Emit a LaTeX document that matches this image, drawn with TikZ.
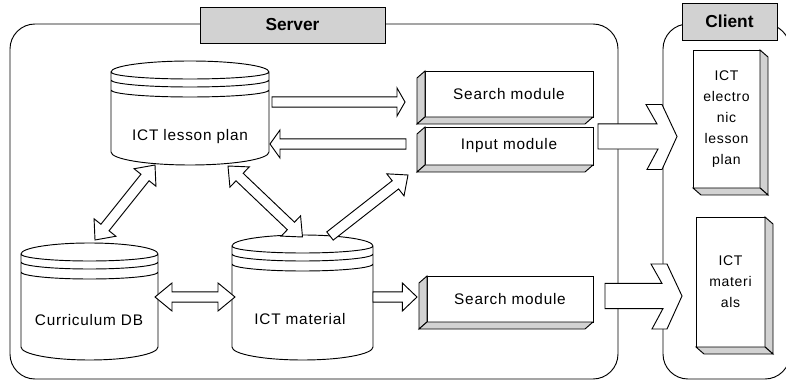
\documentclass[tikz,border=0pt]{standalone}
\usepackage{fontspec}
\setmainfont{Liberation Sans}
\newfontfamily\wide[LetterSpace=5]{Liberation Sans}
\usepackage{tikz}
\usetikzlibrary{calc,positioning}
\tikzset{db/.style={rectangle,inner sep=0pt,outer sep=0pt},
  mod box/.style={rectangle,draw,fill=white,inner sep=0pt,outer sep=0pt,minimum width=126pt,minimum height=34.5pt,font=\wide\fontsize{11.5}{14}\selectfont},
  cl box/.style={rectangle,draw,fill=white,inner sep=0pt,outer sep=0pt,align=center,font=\wide\fontsize{10.5}{15.75}\selectfont},
  tag box/.style={rectangle,draw,fill=gray!35,inner sep=0pt,outer sep=0pt,font=\bfseries\fontsize{13}{15}\selectfont},
  txt/.style={font=\wide\fontsize{11.5}{14}\selectfont},}
\tikzstyle{bevel} = [draw,fill=gray!35]
\tikzstyle{block} = [draw,fill=white]

% database drum round a db node
\newcommand{\drum}[1]{%
  \draw let \p1=(#1.north west), \p2=(#1.south east), \n1={(\x2-\x1)/2} in
    (\x1,{\y1-8.25pt}) -- (\x1,{\y2+9.75pt})
    arc[start angle=180,end angle=360,x radius=\n1,y radius=9.75pt]
    -- (\x2,{\y1-8.25pt})
    arc[start angle=0,end angle=180,x radius=\n1,y radius=8.25pt]
    arc[start angle=180,end angle=360,x radius=\n1,y radius=5.25pt]
    (\x1,{\y1-14.25pt}) arc[start angle=180,end angle=360,x radius=\n1,y radius=5.25pt]
    (\x1,{\y1-21.75pt}) arc[start angle=180,end angle=360,x radius=\n1,y radius=5.25pt];}
% bevels
\newcommand{\bevelsw}[1]{%
  \draw[bevel] (#1.north west) -- ++(-8,7) -- ($(#1.south west)+(-8,7)$) -- (#1.south west) -- cycle;
  \draw[bevel] (#1.south west) -- ++(-8,7) -- ($(#1.south east)+(-8,7)$) -- (#1.south east) -- cycle;}
\newcommand{\bevelse}[1]{%
  \draw[bevel] (#1.north east) -- ++(8,7) -- ($(#1.south east)+(8,7)$) -- (#1.south east) -- cycle;
  \draw[bevel] (#1.south west) -- ++(8,7) -- ($(#1.south east)+(8,7)$) -- (#1.south east) -- cycle;}
% hollow arrows
\newcommand{\barrow}[3][9pt]{%
  \coordinate (s) at (#2); \coordinate (e) at (#3);
  \coordinate (hb) at ($(e)!#1!(s)$);
  \draw[block] ($(s)!3.9pt!90:(e)$) -- ($(hb)!3.9pt!90:(e)$) -- ($(hb)!10.5pt!90:(e)$) -- (e)
    -- ($(hb)!10.5pt!-90:(e)$) -- ($(hb)!3.9pt!-90:(e)$) -- ($(s)!3.9pt!-90:(e)$) -- cycle;}
\newcommand{\dbarrow}[3][12pt]{%
  \coordinate (s) at (#2); \coordinate (e) at (#3);
  \coordinate (hb) at ($(e)!#1!(s)$); \coordinate (ha) at ($(s)!#1!(e)$);
  \draw[block] (s) -- ($(ha)!10.5pt!90:(e)$) -- ($(ha)!3.9pt!90:(e)$) -- ($(hb)!3.9pt!90:(e)$)
    -- ($(hb)!10.5pt!90:(e)$) -- (e) -- ($(hb)!10.5pt!-90:(e)$) -- ($(hb)!3.9pt!-90:(e)$)
    -- ($(ha)!3.9pt!-90:(e)$) -- ($(ha)!10.5pt!-90:(e)$) -- cycle;}
\newcommand{\chevarrow}[2]{%
  \draw[block] let \p1=(#1), \p2=(#2) in
    (\x1,{\y1+9.4pt}) -- ({\x2-15pt},{\y1+9.4pt}) -- ({\x2-23.25pt},{\y1+24pt}) -- ({\x2-11.25pt},{\y1+24pt})
    -- (\x2,\y1) -- ({\x2-11.25pt},{\y1-24.75pt}) -- ({\x2-22.5pt},{\y1-24.75pt})
    -- ({\x2-14.25pt},{\y1-9.4pt}) -- (\x1,{\y1-9.4pt}) -- cycle;}

\begin{document}
\begin{tikzpicture}[x=0.75pt,y=-0.75pt,line width=0.7pt]
    \useasboundingbox (0,0) rectangle (786,381);
    % frames
    \draw[rounded corners=18.75pt] (10,24) rectangle (618,379);
    \draw[rounded corners=18.75pt] (663,24) rectangle (790,379);
    \node[tag box,minimum width=138.75pt,minimum height=27pt] (srv) at (292.5,25) {Server};
    \node[tag box,minimum width=71.25pt,minimum height=27.75pt] (cli) at (729.5,21.5) {Client};

    % databases
    \node[db,minimum width=118.5pt,minimum height=78pt] (lp) at (190,113) {};
    \node[db,minimum width=102.75pt,minimum height=87.75pt] (cdb) at (89.5,301.5) {};
    \node[db,minimum width=105.75pt,minimum height=93.75pt] (mat) at (302.5,297.5) {};
    \drum{lp} \drum{cdb} \drum{mat}
    \node[txt] (lp-t) at (190,137) {ICT lesson plan};
    \node[txt] (cdb-t) at (89,320) {Curriculum DB};
    \node[txt] (mat-t) at (300,319) {ICT material};

    % modules
    \node[mod box] (sm1) at (509,94) {Search module};
    \node[mod box,minimum height=28.5pt] (im) [below=7.5pt of sm1] {Input module};
    \node[mod box,minimum width=124.5pt] (sm2) at (510,299) {Search module};
    \bevelsw{sm1} \bevelsw{im} \bevelsw{sm2}

    % client side
    \node[cl box,minimum width=50.25pt,minimum height=103.5pt] (ep) at (726.5,119) {ICT\\electro\\nic\\lesson\\plan};
    \node[cl box,minimum width=51.75pt,minimum height=97.5pt] (mt) at (730.5,282) {ICT\\materi\\als};
    \bevelse{ep} \bevelse{mt}

    % connectors
    \barrow[6pt]{$(lp.east)+(3,-11)$}{$(sm1.west)+(-20,8)$}
    \barrow[7.5pt]{$(im.west)+(-19,-2)$}{$(lp.east)+(1,31)$}
    \dbarrow{$(lp.south)+(-35,0)$}{$(cdb.north)+(5.5,-3)$}
    \dbarrow{$(lp.south)+(38,1)$}{$(mat.north)+(0,2)$}
    \barrow[12pt]{$(mat.north)+(27.5,1)$}{$(im.south west)+(-17,10)$}
    \dbarrow[12.75pt]{$(cdb.east)+(-3,-4.5)$}{$(mat.west)+(3,-0.5)$}
    \barrow[11pt]{$(mat.east)+(0,-0.5)$}{$(sm2.west)+(-10,-2)$}
    \chevarrow{$(im.east)+(5,-9.5)$}{$(ep.west)+(-16,0)$}
    \chevarrow{$(sm2.east)+(12,-3)$}{$(mt.west)+(-14,0)$}
\end{tikzpicture}
\end{document}
